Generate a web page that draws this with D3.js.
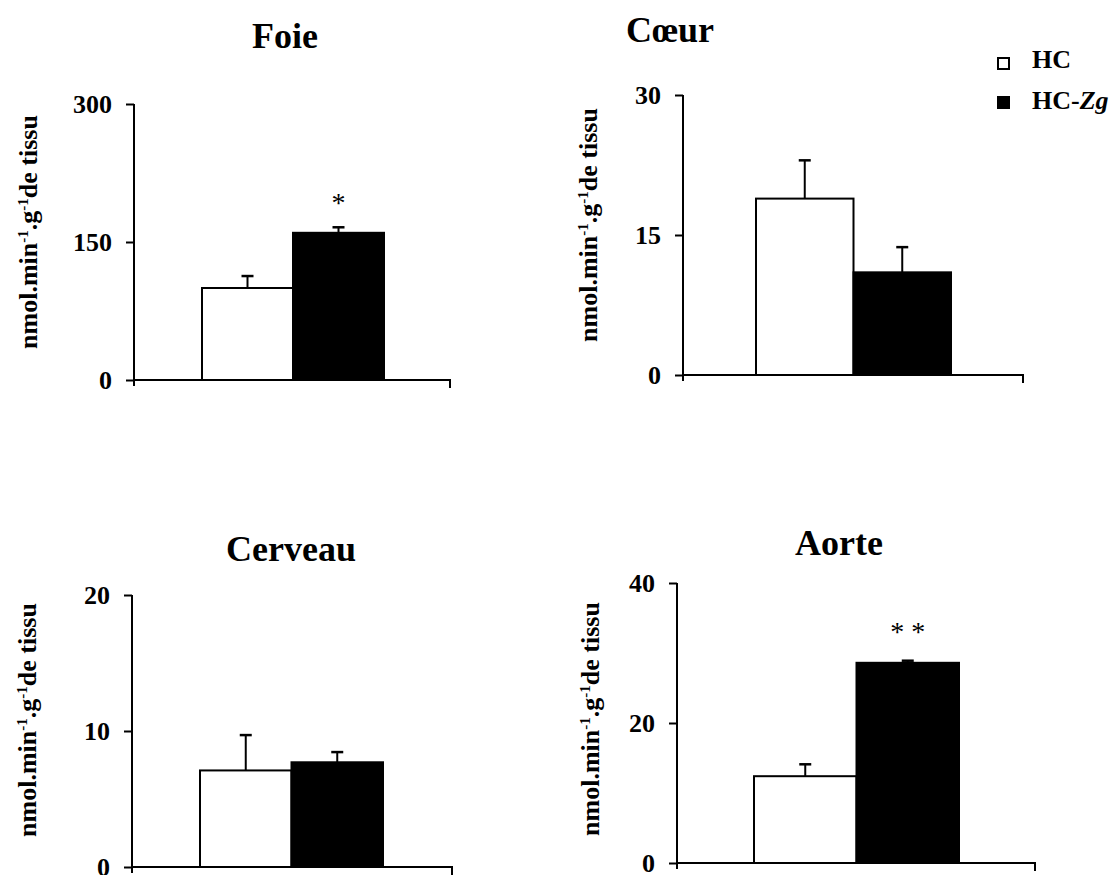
<!DOCTYPE html>
<html>
<head>
<meta charset="utf-8">
<script src="https://cdn.jsdelivr.net/npm/d3@7"></script>
<style>
  html, body { margin: 0; padding: 0; background: #fff; }
  svg { display: block; }
  text { font-family: "Liberation Serif", "Times New Roman", serif; }
</style>
</head>
<body>
<svg id="chart" width="1113" height="875"></svg>
<script>
// ---- data ----
const groups = ["HC", "HC-Zg"];
const panelTitles = ["Foie", "Cœur", "Cerveau", "Aorte"];
const hcValues = [100, 18.9, 7.1, 12.4];
const hcErrors = [13, 4.1, 2.6, 1.7];
const zgValues = [160, 11.0, 7.7, 28.6];
const zgErrors = [6, 2.7, 0.75, 0.3];
const yMaxValues = [300, 30, 20, 40];
const yTickValues = [[0, 150, 300], [0, 15, 30], [0, 10, 20], [0, 20, 40]];
const significance = ["*", "", "", "* *"];

// ---- layout (pixel geometry per panel) ----
const layout = [
  { ax: 134, y0: 380, yTop: 104, xEnd: 450, b0: 202, b1: 384, tx: 285, ty: 48, lx: 37, ly: 232, sOff: 15 },
  { ax: 683, y0: 375, yTop: 95,  xEnd: 1023, b0: 756, b1: 951, tx: 670, ty: 42, lx: 597, ly: 225, sOff: 16 },
  { ax: 132, y0: 867, yTop: 595, xEnd: 452, b0: 200, b1: 383, tx: 291, ty: 561, lx: 36, ly: 720, sOff: 16 },
  { ax: 677, y0: 863, yTop: 583, xEnd: 1035, b0: 754, b1: 959, tx: 839, ty: 555, lx: 599, ly: 719, sOff: 20 }
];

const svg = d3.select("#chart");

panelTitles.forEach((title, i) => {
  const L = layout[i];
  const g = svg.append("g");
  const y = d3.scaleLinear().domain([0, yMaxValues[i]]).range([L.y0, L.yTop]);
  const x = d3.scaleBand().domain(groups).range([L.b0, L.b1]).paddingInner(0).paddingOuter(0);

  const rows = [
    { grp: groups[0], v: hcValues[i], e: hcErrors[i], fill: "#fff" },
    { grp: groups[1], v: zgValues[i], e: zgErrors[i], fill: "#000" }
  ];

  // error bars (drawn under bars)
  rows.forEach(r => {
    const cx = x(r.grp) + x.bandwidth() / 2;
    g.append("line").attr("x1", cx).attr("x2", cx)
      .attr("y1", y(r.v)).attr("y2", y(r.v + r.e))
      .attr("stroke", "#000").attr("stroke-width", 2);
    g.append("line").attr("x1", cx - 6).attr("x2", cx + 6)
      .attr("y1", y(r.v + r.e)).attr("y2", y(r.v + r.e))
      .attr("stroke", "#000").attr("stroke-width", 2.5);
  });

  // bars
  g.selectAll("rect.bar").data(rows).enter().append("rect")
    .attr("class", "bar")
    .attr("x", d => x(d.grp))
    .attr("width", x.bandwidth())
    .attr("y", d => y(d.v))
    .attr("height", d => y(0) - y(d.v))
    .attr("fill", d => d.fill)
    .attr("stroke", "#000")
    .attr("stroke-width", 2);

  // y axis
  const axis = d3.axisLeft(y).tickValues(yTickValues[i]).tickSizeInner(8).tickSizeOuter(0)
    .tickPadding(14).tickFormat(d3.format("d"));
  const ag = g.append("g").attr("transform", `translate(${L.ax},0)`).call(axis);
  ag.select(".domain").attr("stroke-width", 2).attr("d", `M0,${L.yTop}V${L.y0 + 6}`);
  ag.selectAll(".tick line").attr("stroke-width", 2);
  ag.selectAll(".tick text").attr("font-size", 26).attr("font-weight", "bold")
    .attr("fill", "#000").attr("font-family", "Liberation Serif, serif");

  // x axis baseline with right end tick
  g.append("path")
    .attr("d", `M${L.ax},${L.y0}H${L.xEnd}V${L.y0 + 8}`)
    .attr("fill", "none").attr("stroke", "#000").attr("stroke-width", 2);

  // title
  g.append("text").attr("x", L.tx).attr("y", L.ty).attr("text-anchor", "middle")
    .attr("font-size", 36).attr("font-weight", "bold").text(title);

  // y label
  const lab = g.append("text")
    .attr("transform", `translate(${L.lx},${L.ly}) rotate(-90)`)
    .attr("text-anchor", "middle").attr("font-size", 26).attr("font-weight", "bold");
  lab.append("tspan").text("nmol.min");
  lab.append("tspan").attr("dy", -9).attr("font-size", 15).text("-1");
  lab.append("tspan").attr("dy", 9).text(".g");
  lab.append("tspan").attr("dy", -9).attr("font-size", 15).text("-1");
  lab.append("tspan").attr("dy", 9).text("de tissu");

  // significance marks
  if (significance[i]) {
    const r = rows[1];
    const cx = x(r.grp) + x.bandwidth() / 2;
    g.append("text").attr("x", cx).attr("y", y(r.v + r.e) - L.sOff)
      .attr("text-anchor", "middle").attr("font-size", 28).attr("font-weight", "normal")
      .text(significance[i]);
  }
});

// legend
const legend = svg.append("g");
const legendFills = ["#fff", "#000"];
groups.forEach((grp, i) => {
  const ly = 58 + i * 39;
  legend.append("rect").attr("x", 998).attr("y", ly).attr("width", 11).attr("height", 11)
    .attr("fill", legendFills[i]).attr("stroke", "#000").attr("stroke-width", 2);
  const t = legend.append("text").attr("x", 1032).attr("y", ly + 10 + i * 2)
    .attr("font-size", 26).attr("font-weight", "bold");
  if (grp === "HC-Zg") {
    t.append("tspan").text("HC-");
    t.append("tspan").attr("font-style", "italic").text("Zg");
  } else {
    t.text(grp);
  }
});
</script>
</body>
</html>
